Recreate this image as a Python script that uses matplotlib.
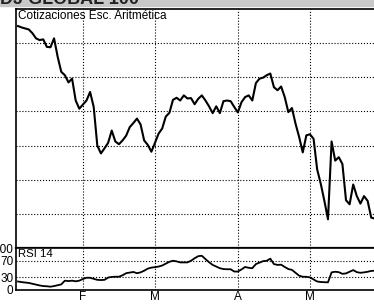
import matplotlib
matplotlib.use("Agg")
import matplotlib.pyplot as plt
from matplotlib.patches import Rectangle

plt.rcParams['font.family'] = ['Liberation Sans', 'DejaVu Sans']

# trading-day index (0 = first session shown), price in grid units, RSI 14
precio = [6.50, 6.46, 6.43, 6.40, 6.29, 6.14, 6.09, 6.11, 5.89, 5.88,
          6.14, 5.60, 5.16, 5.06, 4.85, 4.96, 4.32, 4.08, 4.20, 4.32,
          4.57, 4.13, 3.00, 2.77, 2.92, 3.08, 3.44, 3.12, 3.04, 3.15,
          3.29, 3.54, 3.66, 3.79, 3.62, 3.15, 3.02, 2.82, 3.08, 3.35,
          3.50, 3.85, 3.96, 4.34, 4.40, 4.32, 4.47, 4.38, 4.39, 4.21,
          4.37, 4.47, 4.32, 4.15, 3.95, 4.15, 3.95, 4.30, 4.32, 4.30,
          4.13, 3.97, 4.27, 4.42, 4.47, 4.32, 4.83, 4.96, 4.99, 5.06,
          5.11, 4.71, 4.62, 4.73, 4.42, 3.98, 4.10, 3.64, 3.25, 2.80,
          3.30, 3.33, 3.20, 2.30, 1.88, 1.38, 0.84, 3.12, 2.56, 2.66,
          2.46, 1.40, 1.28, 1.86, 1.52, 1.30, 1.52, 1.38, 0.89, 0.86]

rsi = [20, 18.5, 17.5, 16.5, 14.5, 12.5, 10.5, 9, 8.5, 7.5,
       9, 11, 13, 22, 21, 22, 20.5, 22, 26, 29,
       29, 26.5, 24, 23.5, 24, 29.5, 31, 31.5, 31.5, 35,
       40, 41.5, 43, 40, 42, 46, 51, 53.5, 54.5, 56,
       58.5, 63, 67.5, 70, 68.5, 66, 66, 66, 70, 76,
       81, 82, 74, 66.5, 60, 56, 52, 50, 49.5, 49.5,
       44, 44, 49, 55, 53, 52, 62, 65.5, 69, 70,
       75, 62, 60, 60.5, 55, 50, 48, 41, 34, 31.5,
       31.3, 30, 25, 20, 18.8, 18.3, 18, 42, 43.5, 42.5,
       38.5, 39.5, 43.5, 47.5, 42.5, 41, 42, 43.5, 45.5, 46]

dias = list(range(len(precio)))
meses = ['F', 'M', 'A', 'M']
pos_meses = [18, 38, 61, 81]
rsi_ticks = [0, 30, 70, 100]

W, H = 374, 304
fig = plt.figure(figsize=(W / 100, H / 100), dpi=100)

# franja gris superior con el titulo cortado
fig.patches.append(Rectangle((0, 1 - 6 / H), 1, 6 / H, transform=fig.transFigure,
                             color='#c8c8c8', zorder=0))
fig.text(0.0, 1 - 4 / H, 'DJ GLOBAL 100', fontsize=13, fontweight='bold',
         color='#222222', va='baseline', ha='left')

left = 16 / W
width = (377 - 16) / W
ax = fig.add_axes([left, 1 - 248 / H, width, (248 - 9) / H])
ax2 = fig.add_axes([left, 1 - 289.8 / H, width, (289.8 - 248.3) / H])

xlim = (-0.56, 99.6)

ax.plot(dias, precio, color='black', lw=1.5)
ax.set_xlim(*xlim)
ax.set_ylim(0, 7)
ax.set_yticks(range(1, 7))
ax.set_xticks(pos_meses)
ax.tick_params(length=0, labelleft=False, labelbottom=False)
ax.grid(True, color='black', ls=':', lw=0.8)
for s in ax.spines.values():
    s.set_linewidth(1.2)
ax.spines['bottom'].set_linewidth(1.6)
ax.text(0.006, 0.997, 'Cotizaciones Esc. Aritmética', transform=ax.transAxes,
        fontsize=8.5, va='top', ha='left')

ax2.plot(dias, rsi, color='black', lw=1.3)
ax2.set_xlim(*xlim)
ax2.set_ylim(0, 100)
ax2.set_yticks(rsi_ticks)
ax2.set_yticklabels([str(v) for v in rsi_ticks])
ax2.set_xticks(pos_meses)
ax2.set_xticklabels(meses)
ax2.tick_params(length=0, labelsize=8.5, pad=2)
ax2.tick_params(axis='x', pad=1)
ax2.grid(True, axis='x', color='black', ls=':', lw=0.8)
for v in (30, 70):
    ax2.axhline(v, color='black', ls=':', lw=0.8)
for s in ax2.spines.values():
    s.set_linewidth(1.2)
ax2.text(0.006, 0.98, 'RSI 14', transform=ax2.transAxes, fontsize=8.2,
         va='top', ha='left')

fig.savefig('out.png', dpi=100)
